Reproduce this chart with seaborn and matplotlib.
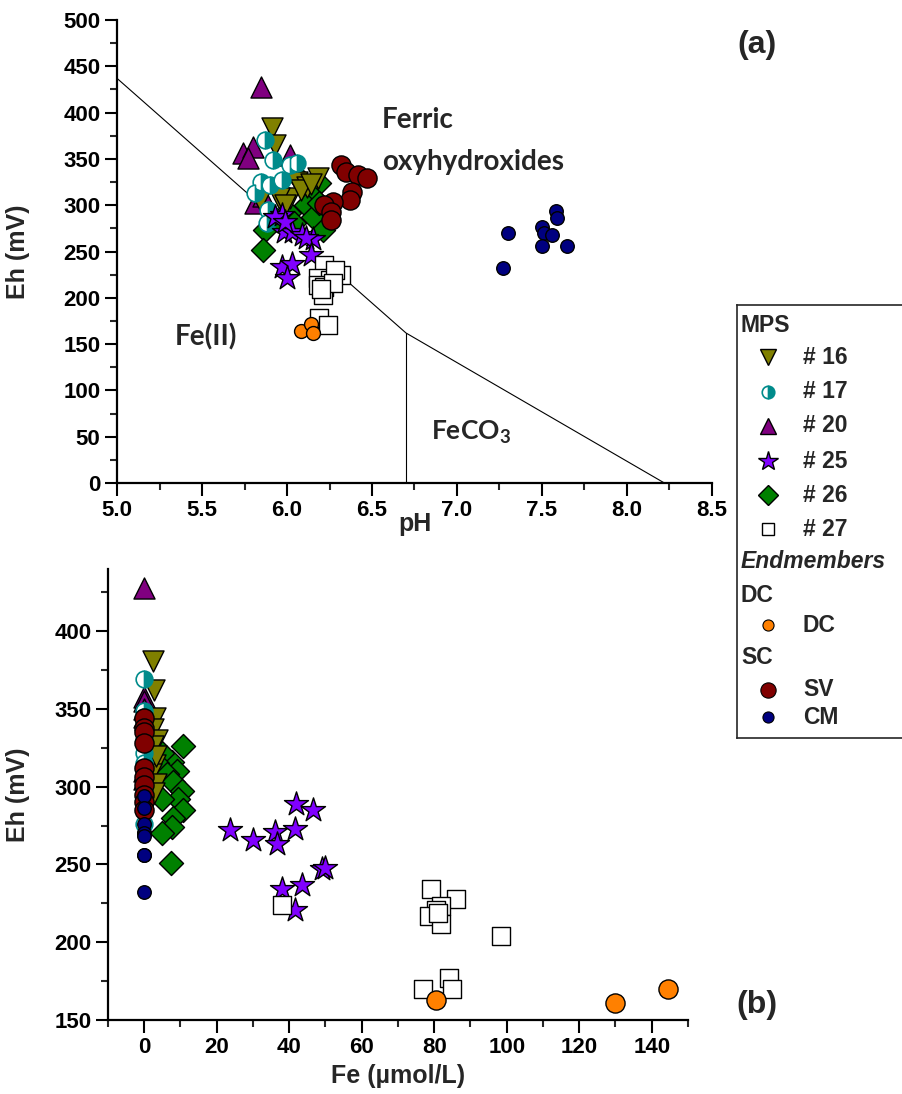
import numpy as np
import pandas as pd
import matplotlib
matplotlib.use("Agg")
import matplotlib.pyplot as plt
import seaborn as sns

# ---- panel (a): pH vs Eh ----
ph16 = [5.91, 5.93, 6.06, 6.12, 6.02, 5.95, 6.08, 6.18, 5.99, 5.84, 6.14]
eh16a = [383, 365, 325, 320, 308, 308, 316, 329, 300, 306, 323]
ph17 = [5.87, 5.92, 6.06, 6.02, 5.85, 5.97, 5.81, 5.90, 5.89, 5.88]
eh17a = [370, 349, 346, 343, 325, 327, 313, 322, 295, 281]
ph20 = [5.85, 5.74, 5.80, 5.77, 6.02, 5.81, 5.86]
eh20a = [428, 356, 363, 351, 354, 302, 310]
ph25 = [5.97, 5.98, 6.03, 6.09, 6.15, 6.11, 6.14, 5.97, 6.03, 6.00, 5.93, 5.99]
eh25a = [289, 271, 271, 268, 264, 265, 246, 233, 237, 221, 287, 282]
ph26 = [6.19, 6.08, 6.12, 6.15, 6.11, 6.15, 6.21, 5.87, 5.86, 6.01, 6.04, 6.19, 5.94]
eh26a = [324, 327, 320, 309, 300, 287, 273, 273, 252, 292, 281, 302, 284]
ph27 = [6.22, 6.32, 6.18, 6.25, 6.18, 6.22, 6.21, 6.19, 6.24, 6.28, 6.27, 6.20]
eh27a = [235, 225, 221, 219, 214, 212, 203, 178, 171, 230, 216, 210]
ph_dc = [6.08, 6.14, 6.15]
eh_dca = [164, 172, 162]
ph_sv = [6.32, 6.35, 6.42, 6.47, 6.38, 6.37, 6.27, 6.22, 6.26, 6.26]
eh_sva = [343, 336, 333, 329, 314, 306, 303, 300, 293, 284]
ph_cm = [7.30, 7.27, 7.58, 7.59, 7.50, 7.51, 7.56, 7.50, 7.65]
eh_cma = [270, 232, 294, 286, 276, 270, 268, 256, 256]

# stability field boundaries (Fe(II) / Fe(III) / FeCO3)
redox_ph = [5.0, 6.7, 8.22]
redox_eh = [437, 162, 0]
siderite_ph = [6.7, 6.7]
siderite_eh = [0, 162]

# ---- panel (b): Fe vs Eh ----
fe16 = [2.5, 2.8, 3.0, 2.5, 3.5, 2.5, 3.0, 2.0, 3.2, 2.7, 3.3]
eh16b = [381, 362, 344, 337, 330, 326, 314, 308, 302, 296, 320]
fe17 = [0, 0, 0, 0, 0, 0, 0, 0, 0, 0]
eh17b = [369, 349, 345, 330, 322, 315, 305, 298, 287, 276]
fe20 = [0, 0, 0, 0, 0, 0, 0]
eh20b = [428, 358, 355, 350, 345, 310, 305]
fe25 = [23.6, 30, 36, 36.5, 41.5, 42, 46.5, 49, 50, 38, 43.6, 41.5]
eh25b = [272, 266, 271, 263, 273, 289, 285, 247, 248, 234, 237, 221]
fe26 = [10.7, 7.7, 9.0, 5.0, 3.5, 6.3, 8.0, 10.4, 9.3, 5.0, 10.7, 8.0, 7.7, 4.9, 7.4]
eh26b = [326, 316, 310, 322, 315, 308, 303, 297, 292, 292, 285, 280, 274, 270, 251]
fe27 = [38, 79, 86, 82, 80.4, 78.5, 82, 98.5, 84, 77, 85, 81]
eh27b = [224, 234, 228, 223, 221, 217, 212, 204, 177, 170, 170, 219]
fe_dc = [80.5, 130, 144.5]
eh_dcb = [163, 161, 170]
fe_sv = [0, 0, 0, 0, 0, 0, 0, 0, 0, 0]
eh_svb = [344, 338, 335, 328, 312, 306, 301, 295, 290, 285]
fe_cm = [0, 0, 0, 0, 0, 0, 0, 0, 0]
eh_cmb = [270, 232, 294, 286, 276, 270, 268, 256, 256]

legend_groups = ['# 16', '# 17', '# 20', '# 25', '# 26', '# 27']

C16, C17, C20, C25, C26 = '#808000', '#008B8B', '#800080', '#8000FF', '#008000'
C_DC, C_SV, C_CM = '#FF8000', '#800000', '#000080'

sns.set_style("ticks")
plt.rcParams['font.family'] = ['Liberation Sans', 'DejaVu Sans']
plt.rcParams['font.weight'] = 'bold'
plt.rcParams['xtick.direction'] = 'out'
plt.rcParams['ytick.direction'] = 'out'

fig = plt.figure(figsize=(9.03, 10.94), dpi=100)
ax1 = fig.add_axes([117 / 903, 1 - 483 / 1094, 595 / 903, 463 / 1094])
ax2 = fig.add_axes([108 / 903, 1 - 1020 / 1094, 580 / 903, 451 / 1094])


def draw_points(ax, x, y, big_dc):
    kw = dict(edgecolor='black', linewidth=1.0, legend=False, ax=ax)
    sns.scatterplot(x=x['26'], y=y['26'], marker='D', s=150, color=C26, zorder=3, **kw)
    sns.scatterplot(x=x['20'], y=y['20'], marker='^', s=230, color=C20, zorder=3, **kw)
    sns.scatterplot(x=x['16'], y=y['16'], marker='v', s=230, color=C16, zorder=3, **kw)
    ax.plot(x['17'], y['17'], linestyle='none', marker='o', markersize=12,
            fillstyle='right', markerfacecolor=C17, markerfacecoloralt='white',
            markeredgecolor=C17, markeredgewidth=1.2, zorder=3)
    sns.scatterplot(x=x['sv'], y=y['sv'], marker='o', s=190, color=C_SV, zorder=3, **kw)
    sns.scatterplot(x=x['25'], y=y['25'], marker='*', s=330, color=C25, zorder=4, **kw)
    sns.scatterplot(x=x['27'], y=y['27'], marker='s', s=150, color='white', zorder=4, **kw)
    sns.scatterplot(x=x['cm'], y=y['cm'], marker='o', s=95, color=C_CM, zorder=4, **kw)
    sns.scatterplot(x=x['dc'], y=y['dc'], marker='o', s=(190 if big_dc else 100),
                    color=C_DC, zorder=4, **kw)


draw_points(ax1,
            {'16': ph16, '17': ph17, '20': ph20, '25': ph25, '26': ph26, '27': ph27,
             'dc': ph_dc, 'sv': ph_sv, 'cm': ph_cm},
            {'16': eh16a, '17': eh17a, '20': eh20a, '25': eh25a, '26': eh26a, '27': eh27a,
             'dc': eh_dca, 'sv': eh_sva, 'cm': eh_cma}, False)
ax1.plot(redox_ph, redox_eh, color='black', linewidth=0.8, zorder=2)
ax1.plot(siderite_ph, siderite_eh, color='black', linewidth=0.8, zorder=2)

draw_points(ax2,
            {'16': fe16, '17': fe17, '20': fe20, '25': fe25, '26': fe26, '27': fe27,
             'dc': fe_dc, 'sv': fe_sv, 'cm': fe_cm},
            {'16': eh16b, '17': eh17b, '20': eh20b, '25': eh25b, '26': eh26b, '27': eh27b,
             'dc': eh_dcb, 'sv': eh_svb, 'cm': eh_cmb}, True)

# axes cosmetics
ax1.set_xlim(5.0, 8.5)
ax1.set_ylim(0, 500)
ax1.set_xticks(np.arange(5.0, 8.51, 0.5))
ax1.set_xticks(np.arange(5.25, 8.5, 0.5), minor=True)
ax1.set_yticks(np.arange(0, 501, 50))
ax1.set_yticks(np.arange(25, 500, 50), minor=True)
ax1.set_xticklabels([f'{v:.1f}' for v in np.arange(5.0, 8.51, 0.5)])

ax2.set_xlim(-10, 150)
ax2.set_ylim(150, 440)
ax2.set_xticks(np.arange(0, 141, 20))
ax2.set_xticks(np.arange(-10, 151, 20), minor=True)
ax2.set_yticks(np.arange(150, 401, 50))
ax2.set_yticks(np.arange(175, 440, 50), minor=True)

for ax in (ax1, ax2):
    sns.despine(ax=ax)
    for side in ('left', 'bottom'):
        ax.spines[side].set_linewidth(1.6)
        ax.spines[side].set_color('black')
    ax.tick_params(which='major', length=9, width=1.5, labelsize=16, colors='black', pad=3)
    ax.tick_params(which='minor', length=5, width=1.5)
    for lab in ax.get_xticklabels() + ax.get_yticklabels():
        lab.set_fontweight('bold')

ax1.set_xlabel('pH', fontsize=18, fontweight='bold')
ax1.set_ylabel('Eh (mV)', fontsize=18, fontweight='bold')
ax1.xaxis.set_label_coords(0.5, -0.062)
ax1.yaxis.set_label_coords(-0.146, 0.5)
ax2.set_xlabel('Fe (µmol/L)', fontsize=18, fontweight='bold')
ax2.set_ylabel('Eh (mV)', fontsize=18, fontweight='bold')
ax2.xaxis.set_label_coords(0.5, -0.098)
ax2.yaxis.set_label_coords(-0.134, 0.5)

# field labels
afont = ['Lato', 'DejaVu Sans']
ax1.text(6.56, 392, 'Ferric', family=afont, fontsize=20, fontweight='bold', va='center')
ax1.text(6.56, 347, 'oxyhydroxides', family=afont, fontsize=20, fontweight='bold', va='center')
ax1.text(5.34, 158, 'Fe(II)', family=afont, fontsize=20, fontweight='bold', va='center')
ax1.text(6.85, 55, 'FeCO$_\\mathregular{3}$', family=afont, fontsize=19, fontweight='bold',
         va='center')

fig.text(757 / 903, 1 - 45 / 1094, '(a)', fontsize=23, fontweight='bold', va='center',
         ha='center')
fig.text(757 / 903, 1 - 1005 / 1094, '(b)', fontsize=23, fontweight='bold', va='center',
         ha='center')

# legend panel
lax = fig.add_axes([737 / 903, 1 - 738 / 1094, 200 / 903, 433 / 1094])
lax.set_xlim(737, 937)
lax.set_ylim(738, 305)
lax.set_xticks([])
lax.set_yticks([])
for side in ('left', 'top', 'bottom'):
    lax.spines[side].set_linewidth(1.2)
lax.spines['right'].set_visible(False)
lax.set_facecolor('white')

rows_y = [357, 392, 426, 461, 495, 529]
row_markers = [('v', C16), ('o', C17), ('^', C20), ('*', C25), ('D', C26), ('s', 'white')]
for yy, (mk, col), lab in zip(rows_y, row_markers, legend_groups):
    if mk == 'o':
        lax.plot([768], [yy], marker='o', markersize=9, fillstyle='right',
                 markerfacecolor=col, markerfacecoloralt='white', markeredgecolor=col,
                 markeredgewidth=1.2, linestyle='none')
    else:
        size = {'v': 11, '^': 11, '*': 15, 'D': 10, 's': 9}[mk]
        lax.plot([768], [yy], marker=mk, markersize=size, markerfacecolor=col,
                 markeredgecolor='black', markeredgewidth=1.0, linestyle='none')
    lax.text(803, yy, lab, fontsize=16.5, fontweight='bold', va='center')

lax.text(741, 325, 'MPS', fontsize=16.5, fontweight='bold', va='center')
lax.text(741, 562, 'Endmembers', fontsize=16.5, fontweight='bold', style='italic', va='center')
lax.text(741, 595, 'DC', fontsize=16.5, fontweight='bold', va='center')
lax.text(741, 658, 'SC', fontsize=16.5, fontweight='bold', va='center')
end_rows = [(625, C_DC, 8, 'DC'), (690, C_SV, 11, 'SV'), (717, C_CM, 8, 'CM')]
for yy, col, size, lab in end_rows:
    lax.plot([768], [yy], marker='o', markersize=size, markerfacecolor=col,
             markeredgecolor='black', markeredgewidth=0.8, linestyle='none')
    lax.text(803, yy, lab, fontsize=16.5, fontweight='bold', va='center')

fig.savefig('out.png', dpi=100)
